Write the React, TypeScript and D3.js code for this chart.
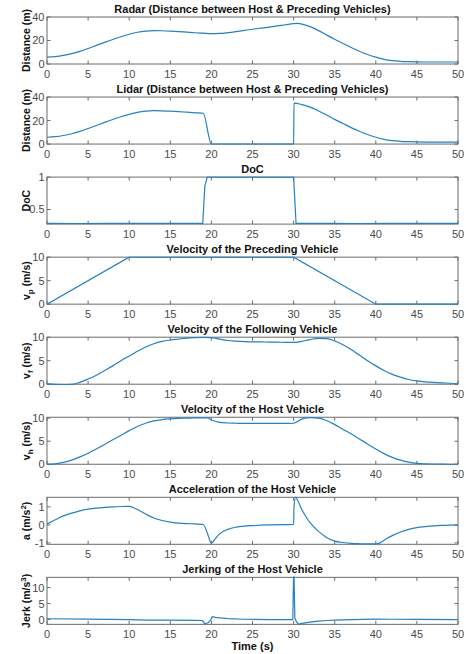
import React from "react";
import * as d3 from "d3";

// ---------- data ----------
const xTicks = [0, 5, 10, 15, 20, 25, 30, 35, 40, 45, 50];

const radarT = [0,1,2,3,4,5,6,7,8,9,10,11,12,13,14,15,16,17,18,19,20,21,22,23,24,25,26,27,28,29,30,30.5,31,32,33,34,35,36,37,38,39,40,41,42,43,44,45,46,47,48,49,50];
const radarD = [5.8,6.3,7.3,8.8,10.8,13.2,15.8,18.4,20.9,23.2,25.3,27.0,28.0,28.4,28.3,28.0,27.6,27.1,26.6,26.2,25.8,26.0,26.7,27.6,28.6,29.6,30.5,31.4,32.4,33.4,34.4,34.6,34.0,31.8,28.6,24.8,21.0,17.5,14.0,10.9,8.1,5.8,4.0,2.9,2.3,2.0,1.8,1.7,1.7,1.7,1.7,1.7];

const lidarT = [0,1,2,3,4,5,6,7,8,9,10,11,12,13,14,15,16,17,18,19,20,25,30,30.05,31,32,33,34,35,36,37,38,39,40,41,42,43,44,45,46,47,48,49,50];
const lidarD = [5.8,6.3,7.3,8.8,10.8,13.2,15.8,18.4,20.9,23.2,25.3,27.0,28.0,28.4,28.3,28.0,27.6,27.1,26.6,26.2,0,0,0,34.8,33.6,31.4,28.4,24.8,21.0,17.5,14.0,10.9,8.1,5.8,4.0,2.9,2.3,2.0,1.8,1.7,1.7,1.7,1.7,1.7];

const docT = [0,4,8,12,16,18.95,19.2,19.5,30.0,30.3,34,38,42,46,50];
const docV = [0.285,0.284,0.287,0.285,0.286,0.286,0.86,1.0,1.0,0.285,0.286,0.284,0.287,0.285,0.286];

const vpT = [0, 10, 30, 40, 50];
const vpV = [0, 10, 10, 0, 0];

const vfT = [0,1,2,3,4,5,6,7,8,9,10,11,12,13,14,15,16,17,18,19,20,21,22,23,24,25,26,27,28,29,30,30.5,31,32,33,34,35,36,37,38,39,40,41,42,43,44,45,46,47,48,49,50];
const vfV = [0.05,-0.05,-0.1,-0.05,0.4,1.1,1.9,2.9,3.9,5.0,6.0,7.0,7.9,8.6,9.1,9.4,9.6,9.8,9.9,9.95,9.9,9.6,9.3,9.15,9.05,9.0,9.0,8.95,8.95,8.9,8.9,8.95,9.1,9.5,9.75,9.7,9.2,8.4,7.4,6.2,5.0,3.9,2.9,2.1,1.5,1.0,0.7,0.5,0.4,0.3,0.2,0.1];

const vhT = [0,1,2,3,4,5,6,7,8,9,10,11,12,13,14,15,16,17,18,19,19.5,20,21,22,23,24,25,26,27,28,29,30,30.5,31,32,33,34,35,36,37,38,39,40,41,42,43,44,45,46,47,48,49,50];
const vhV = [0,0.1,0.4,0.9,1.6,2.4,3.3,4.3,5.3,6.3,7.3,8.2,8.9,9.4,9.7,9.85,9.95,10.0,10.05,10.05,10.05,9.6,9.1,8.95,8.9,8.85,8.85,8.85,8.85,8.85,8.88,8.9,9.3,9.8,10.1,10.0,9.5,8.6,7.6,6.6,5.5,4.4,3.3,2.3,1.5,0.9,0.45,0.2,0.1,0.05,0.02,0,0];

const accT = [0,1,2,3,4,5,6,7,8,9,10,11,12,13,14,15,16,17,18,19,19.5,20,20.5,21,22,23,24,25,27,30,30.05,30.25,30.5,31,31.5,32,33,34,35,36,37,38,39,40,40.5,41,42,43,44,45,46,47,48,49,50];
const accV = [0.05,0.28,0.5,0.65,0.78,0.87,0.93,0.97,1.0,1.02,1.03,0.85,0.6,0.38,0.24,0.15,0.1,0.07,0.05,0.02,-0.45,-1.02,-0.75,-0.5,-0.25,-0.13,-0.07,-0.04,0.0,0.03,1.0,1.55,1.35,0.85,0.45,0.12,-0.35,-0.7,-0.9,-0.98,-1.03,-1.05,-1.06,-1.06,-1.0,-0.85,-0.6,-0.4,-0.25,-0.15,-0.1,-0.06,-0.03,-0.01,-0.02];

const jerkT = [0,5,10,12,15,18,18.9,19.2,19.6,19.9,20.1,20.5,21,22,24,27,29.9,30.0,30.05,30.15,30.3,30.6,31,32,33,34,35,37,40,42,45,50];
const jerkV = [0.25,0.15,0.0,-0.15,-0.2,-0.25,-0.3,-1.3,-1.0,-0.2,0.9,0.7,0.5,0.3,0.1,0.0,0.0,14,14,0.5,-0.5,-1.5,-1.2,-0.8,-0.5,-0.3,-0.15,0.0,0.15,0.1,0.05,0.0];

type Label = { main: string; sub?: string; rest: string; sup?: string; tail?: string };

const panels: {
  title: string;
  t: number[];
  v: number[];
  domain: [number, number];
  yTicks: number[];
  smooth: boolean;
  label: Label;
}[] = [
  { title: "Radar (Distance between Host & Preceding Vehicles)", t: radarT, v: radarD, domain: [0, 40], yTicks: [0, 20, 40], smooth: true, label: { main: "Distance (m)", rest: "" } },
  { title: "Lidar (Distance between Host & Preceding Vehicles)", t: lidarT, v: lidarD, domain: [0, 40], yTicks: [0, 20, 40], smooth: true, label: { main: "Distance (m)", rest: "" } },
  { title: "DoC", t: docT, v: docV, domain: [0.275, 1], yTicks: [0.5, 1], smooth: false, label: { main: "DoC", rest: "" } },
  { title: "Velocity of the Preceding Vehicle", t: vpT, v: vpV, domain: [0, 10], yTicks: [0, 5, 10], smooth: false, label: { main: "v", sub: "p", rest: " (m/s)" } },
  { title: "Velocity of the Following Vehicle", t: vfT, v: vfV, domain: [0, 10], yTicks: [0, 5, 10], smooth: true, label: { main: "v", sub: "f", rest: " (m/s)" } },
  { title: "Velocity of the Host Vehicle", t: vhT, v: vhV, domain: [0, 10.2], yTicks: [0, 5, 10], smooth: true, label: { main: "v", sub: "h", rest: " (m/s)" } },
  { title: "Acceleration of the Host Vehicle", t: accT, v: accV, domain: [-1.08, 1.53], yTicks: [-1, 0, 1], smooth: true, label: { main: "a", rest: " (m/s", sup: "2", tail: ")" } },
  { title: "Jerking of the Host Vehicle", t: jerkT, v: jerkV, domain: [-1.5, 13.2], yTicks: [0, 5, 10], smooth: false, label: { main: "Jerk", rest: " (m/s", sup: "3", tail: ")" } },
];

const W = 466;
const H = 654;
const LEFT = 47;
const RIGHT = 458;
const PH = 47;
const FIRST_TOP = 17;
const STEP = 80.05;
const FONT = "'Liberation Sans', Arial, Helvetica, sans-serif";
const AXIS = "#6b6b6b";
const TICKTXT = "#4a4a4a";
const LINE = "#2580c2";

const x = d3.scaleLinear().domain([0, 50]).range([LEFT, RIGHT]);

function YLabel({ label, cx, cy }: { label: Label; cx: number; cy: number }) {
  return (
    <text
      transform={`translate(${cx},${cy}) rotate(-90)`}
      textAnchor="middle"
      fontFamily={FONT}
      fontWeight="bold"
      fontSize={10.5}
      fill="#111"
    >
      <tspan>{label.main}</tspan>
      {label.sub && (
        <tspan fontSize={8} dy={3}>
          {label.sub}
        </tspan>
      )}
      <tspan dy={label.sub ? -3 : 0}>{label.rest}</tspan>
      {label.sup && (
        <tspan fontSize={8} dy={-4}>
          {label.sup}
        </tspan>
      )}
      {label.tail && <tspan dy={label.sup ? 4 : 0}>{label.tail}</tspan>}
    </text>
  );
}

function Panel({ idx }: { idx: number }) {
  const p = panels[idx];
  const top = FIRST_TOP + idx * STEP;
  const bottom = top + PH;
  const y = d3.scaleLinear().domain(p.domain).range([bottom, top]);
  const pts: [number, number][] = p.t.map((t, i) => [t, p.v[i]]);
  const line = d3
    .line<[number, number]>()
    .x((d) => x(d[0]))
    .y((d) => y(d[1]))
    .curve(p.smooth ? d3.curveMonotoneX : d3.curveLinear);
  const clipId = `clip${idx}`;
  const tl = 3.5;
  return (
    <g>
      <defs>
        <clipPath id={clipId}>
          <rect x={LEFT} y={top - 0.8} width={RIGHT - LEFT} height={PH + 1.6} />
        </clipPath>
      </defs>
      <rect x={LEFT} y={top} width={RIGHT - LEFT} height={PH} fill="none" stroke={AXIS} strokeWidth={1} />
      {xTicks.map((t) => (
        <g key={`xt${t}`}>
          <line x1={x(t)} x2={x(t)} y1={bottom} y2={bottom - tl} stroke={AXIS} />
          <line x1={x(t)} x2={x(t)} y1={top} y2={top + tl} stroke={AXIS} />
          <text x={x(t)} y={bottom + 13.5} textAnchor="middle" fontFamily={FONT} fontSize={11} fill={TICKTXT}>
            {t}
          </text>
        </g>
      ))}
      {p.yTicks.map((v) => (
        <g key={`yt${v}`}>
          <line x1={LEFT} x2={LEFT + tl} y1={y(v)} y2={y(v)} stroke={AXIS} />
          <line x1={RIGHT} x2={RIGHT - tl} y1={y(v)} y2={y(v)} stroke={AXIS} />
          <text x={LEFT - 2.5} y={y(v)} dy="0.36em" textAnchor="end" fontFamily={FONT} fontSize={11} fill={TICKTXT}>
            {String(v)}
          </text>
        </g>
      ))}
      <path d={line(pts) || ""} fill="none" stroke={LINE} strokeWidth={1.2} clipPath={`url(#${clipId})`} />
      <text x={(LEFT + RIGHT) / 2} y={top - 4} textAnchor="middle" fontFamily={FONT} fontWeight="bold" fontSize={11} fill="#111">
        {p.title}
      </text>
      <YLabel label={p.label} cx={30} cy={(top + bottom) / 2} />
    </g>
  );
}

export default function App() {
  return (
    <svg
      width={W}
      height={H}
      viewBox={`0 0 ${W} ${H}`}
      style={{ position: "absolute", left: 0, top: 0, background: "#fff" }}
    >
      <rect x={0} y={0} width={W} height={H} fill="#fff" />
      {panels.map((_, i) => (
        <Panel key={i} idx={i} />
      ))}
      <text x={(LEFT + RIGHT) / 2} y={650} textAnchor="middle" fontFamily={FONT} fontWeight="bold" fontSize={11} fill="#111">
        Time (s)
      </text>
    </svg>
  );
}
